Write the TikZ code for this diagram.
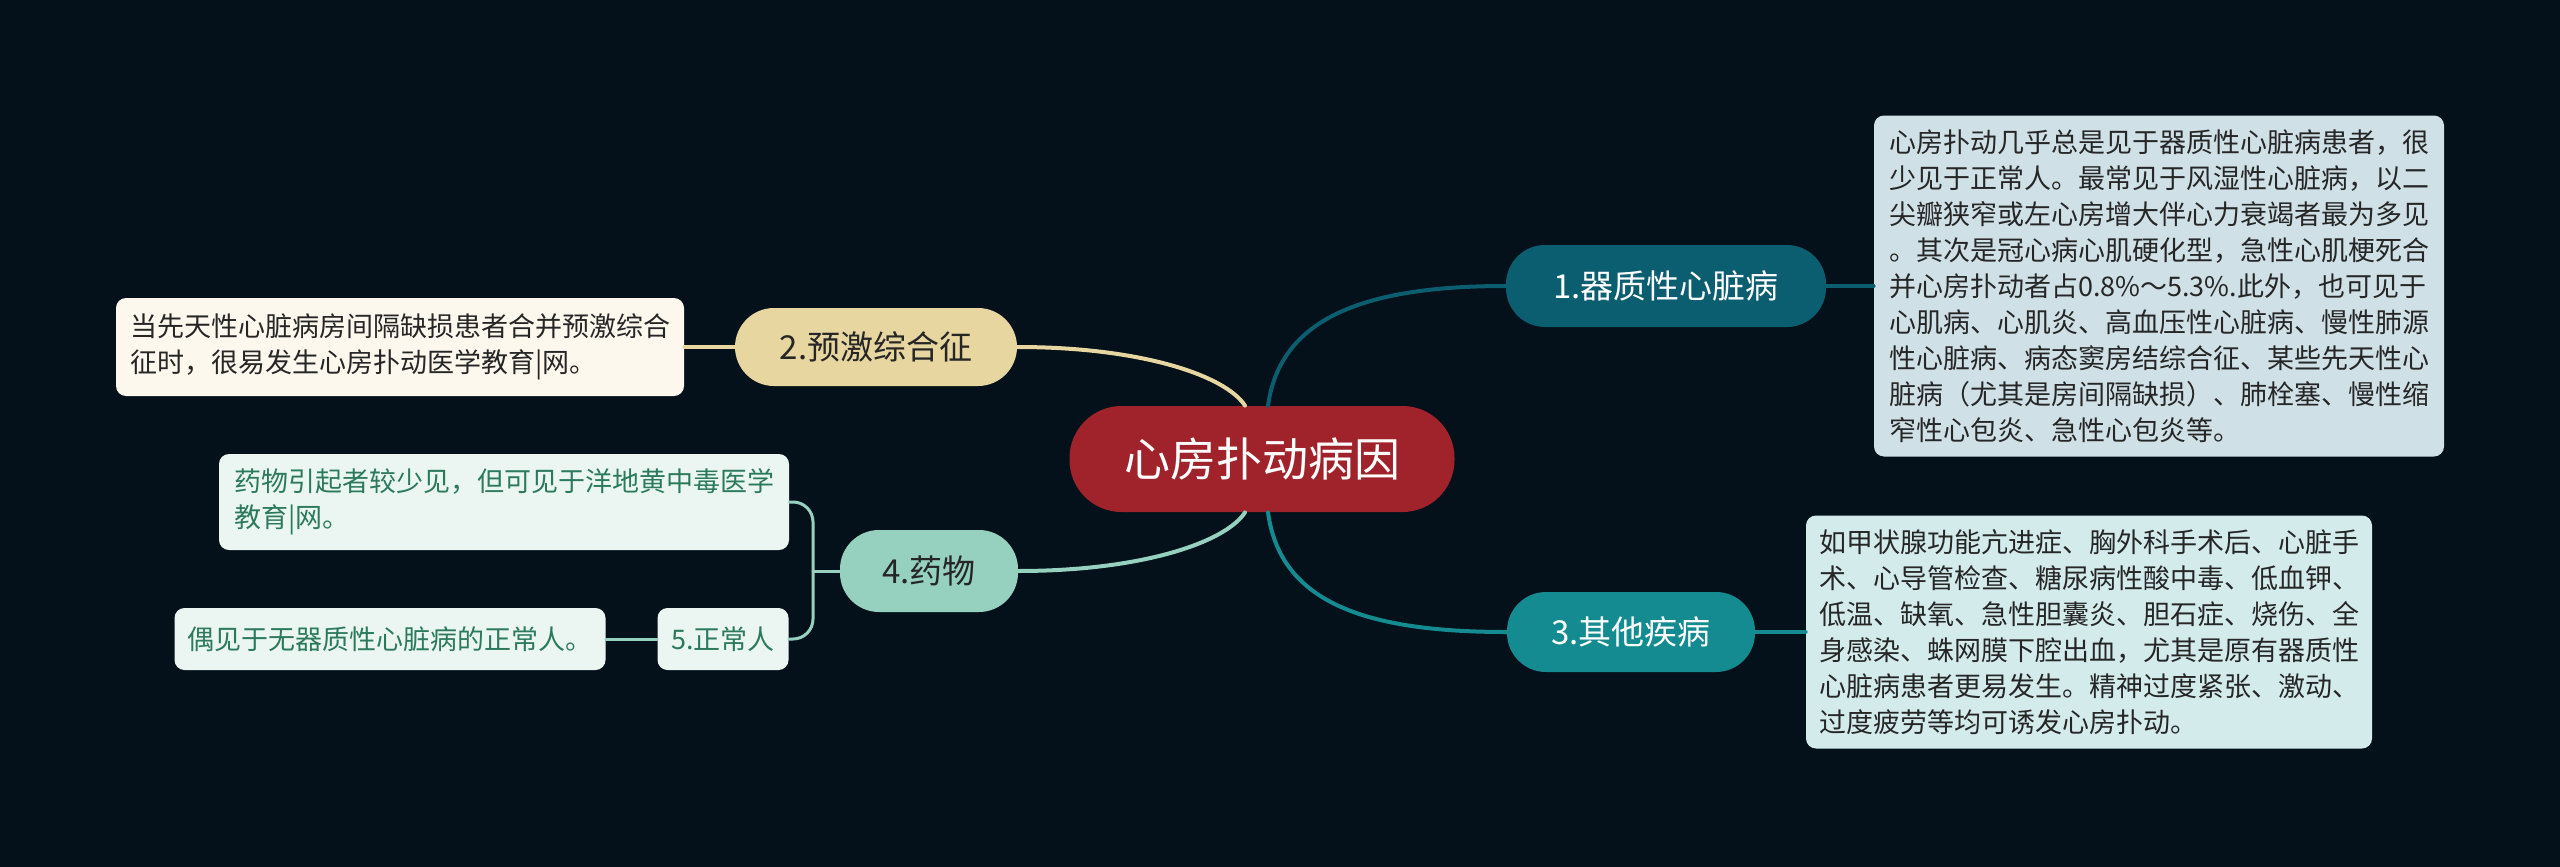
\documentclass[tikz,border=0pt]{standalone}
\usepackage{fontspec}
\setmainfont{Noto Sans CJK SC}
\definecolor{bgc}{HTML}{04111A}
\definecolor{rootc}{HTML}{A0232B}
\definecolor{nac}{HTML}{0B5D70}
\definecolor{ncc}{HTML}{138B90}
\definecolor{nbc}{HTML}{E8D6A0}
\definecolor{ndc}{HTML}{95D1BE}
\definecolor{bac}{HTML}{CFE0E6}
\definecolor{bcc}{HTML}{D4EBEC}
\definecolor{bbc}{HTML}{FCF8EE}
\definecolor{bdc}{HTML}{EBF6F2}
\definecolor{greentext}{HTML}{2B7A5C}
\definecolor{darktext}{HTML}{262626}
\begin{document}
\begin{tikzpicture}[x=0.5pt,y=-0.5pt,
  rootnode/.style={rounded corners=26pt, fill=rootc, text=white, inner sep=0pt,
    font=\fontsize{23pt}{28pt}\selectfont, minimum width=192.5pt, minimum height=53pt},
  branchnode/.style={rounded corners=19.5pt, inner sep=0pt,
    font=\fontsize{16.5pt}{20pt}\selectfont},
  leafnode/.style={rounded corners=5pt, inner sep=0pt, align=left,
    font=\fontsize{13.5pt}{18pt}\selectfont},
  conn/.style={line width=2pt, line cap=round},
  thinconn/.style={line width=1.5pt, line cap=round}
]
\fill[bgc] (0,0) rectangle (2560,867);
\useasboundingbox (0,0) rectangle (2560,867);

% nodes
\node[rootnode] (root) at (1262,459) {心房扑动病因};

\node[branchnode, fill=nac, text=white, minimum width=160pt, minimum height=41pt] (n1) at (1666,286) {1.器质性心脏病};
\node[branchnode, fill=ncc, text=white, minimum width=124pt, minimum height=40pt] (n3) at (1631,632) {3.其他疾病};
\node[branchnode, fill=nbc, text=darktext, minimum width=141pt, minimum height=39pt] (n2) at (876,347) {2.预激综合征};
\node[branchnode, fill=ndc, text=darktext, minimum width=89pt, minimum height=41pt] (n4) at (929,571) {4.药物};

\node[leafnode, fill=bac, text=darktext, minimum width=285pt, minimum height=170.5pt] (b1) at (2159,286) {心房扑动几乎总是见于器质性心脏病患者，很\\少见于正常人。最常见于风湿性心脏病，以二\\尖瓣狭窄或左心房增大伴心力衰竭者最为多见\\。其次是冠心病心肌硬化型，急性心肌梗死合\\并心房扑动者占0.8\%～5.3\%.此外，也可见于\\心肌病、心肌炎、高血压性心脏病、慢性肺源\\性心脏病、病态窦房结综合征、某些先天性心\\脏病（尤其是房间隔缺损）、肺栓塞、慢性缩\\窄性心包炎、急性心包炎等。};

\node[leafnode, fill=bcc, text=darktext, minimum width=283pt, minimum height=116.5pt] (b3) at (2089,632) {如甲状腺功能亢进症、胸外科手术后、心脏手\\术、心导管检查、糖尿病性酸中毒、低血钾、\\低温、缺氧、急性胆囊炎、胆石症、烧伤、全\\身感染、蛛网膜下腔出血，尤其是原有器质性\\心脏病患者更易发生。精神过度紧张、激动、\\过度疲劳等均可诱发心房扑动。};

\node[leafnode, fill=bbc, text=darktext, minimum width=284pt, minimum height=49pt] (b2) at (400,347) {当先天性心脏病房间隔缺损患者合并预激综合\\征时，很易发生心房扑动医学教育|网。};

\node[leafnode, fill=bdc, text=greentext, minimum width=285pt, minimum height=48pt] (b4) at (504,502) {药物引起者较少见，但可见于洋地黄中毒医学\\教育|网。};

\node[leafnode, fill=bdc, text=greentext, minimum width=65.5pt, minimum height=31pt] (n5) at (723,639) {5.正常人};
\node[leafnode, fill=bdc, text=greentext, minimum width=215.5pt, minimum height=31pt] (b5) at (390,639) {偶见于无器质性心脏病的正常人。};

\coordinate (j4) at (813,571);

% connectors
\draw[conn, nbc] ([xshift=-8.5pt]root.north) .. controls (1225,375) and (1140,347) .. (n2.east);
\draw[conn, ndc] ([xshift=-8.5pt]root.south) .. controls (1225,543) and (1140,571) .. (n4.east);
\draw[conn, nac] ([xshift=3pt]root.north) .. controls (1280,320) and (1360,286) .. (n1.west);
\draw[conn, ncc] ([xshift=3pt]root.south) .. controls (1280,600) and (1360,632) .. (n3.west);

\draw[conn, nac] (n1.east) -- (b1.west);
\draw[conn, ncc] (n3.east) -- (b3.west);
\draw[conn, nbc] (n2.west) -- (b2.east);

\draw[thinconn, ndc] (n4.west) -- (j4);
\draw[thinconn, ndc, rounded corners=10pt] (b4.east) -| (j4);
\draw[thinconn, ndc, rounded corners=10pt] (n5.east) -| (j4);
\draw[thinconn, ndc] (b5.east) -- (n5.west);
\end{tikzpicture}
\end{document}
